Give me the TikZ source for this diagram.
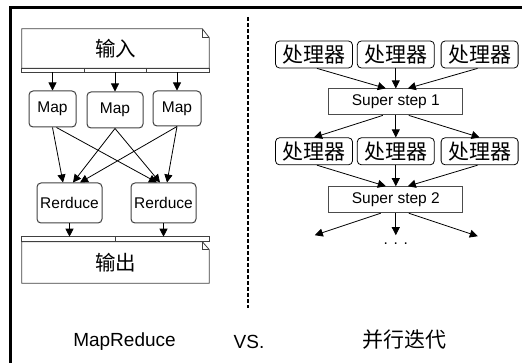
\documentclass[tikz,border=0pt]{standalone}
\usepackage{fontspec}
\setmainfont{Liberation Sans}
\newfontfamily\cjk{Noto Sans CJK SC}
\usetikzlibrary{arrows.meta,positioning}

\begin{document}
\begin{tikzpicture}[x=1pt,y=-1pt,>={Triangle[length=8pt,width=8pt]},semithick]
	\tikzstyle{task}=[rectangle, rounded corners=4pt, draw=black!75, line width=1pt, inner sep=0pt, minimum height=36pt, font=\fontsize{15.5}{18}\selectfont]
	\tikzstyle{doc}=[inner sep=0pt, minimum width=187pt, font=\cjk\fontsize{20.5}{24}\selectfont]
	\tikzstyle{docline}=[draw=black!75, line width=0.8pt]
	\tikzstyle{proc}=[rectangle, rounded corners=4pt, draw=black, line width=0.8pt, inner sep=0pt, minimum width=77pt, minimum height=27pt, font=\cjk\fontsize{21}{24}\selectfont]
	\tikzstyle{sstep}=[rectangle, draw=black!70, line width=1pt, inner sep=0pt, minimum width=134pt, minimum height=26pt, font=\fontsize{15.5}{18}\selectfont]
	\tikzstyle{link}=[->, line width=0.8pt]
	\tikzstyle{caption}=[font=\fontsize{19}{22}\selectfont]
	
	\useasboundingbox (0,0) rectangle (522,363);
	\clip (0,0) rectangle (522,363);
	\draw[line width=3pt] (10,8) rectangle (600,420);
	
	% MapReduce
	\node[doc, minimum height=39pt] (in) at (115.5,48.5) {输入};
	\draw[docline] (in.south west) -- (in.north west) -- ([xshift=-7pt]in.north east) -- ([yshift=-9pt]in.north east) -- (in.south east) -- cycle;
	\draw[docline] ([xshift=-7pt]in.north east) |- ([yshift=-9pt]in.north east);
	\draw[docline] (in.south west) rectangle ([yshift=-4pt]in.south east);
	\path (in.south west) -- (in.south east) coordinate[pos=1/3] (d1) coordinate[pos=2/3] (d2);
	\draw[docline] (d1) -- ++(0,4);
	\draw[docline] (d2) -- ++(0,4);
	\coordinate (instrip) at ([yshift=-4pt]in.south);
	
	\node[task, minimum width=47pt] (map1) at (52.5,109) {Map};
	\node[task, minimum width=56pt] (map2) at (115,110) {Map};
	\node[task, minimum width=48pt, minimum height=35pt] (map3) at (177,108.5) {Map};
	
	\node[task, minimum width=65pt, minimum height=40pt] (red1) at (69.5,203) {Rerduce};
	\node[task, minimum width=65pt, minimum height=40pt] (red2) at (163.5,203) {Rerduce};
	
	\node[doc, minimum height=41pt] (out) at (115.5,262.5) {输出};
	\draw[docline] (out.north west) -- ([xshift=-7pt]out.north east) -- ([yshift=-8pt]out.north east) -- (out.south east) -- (out.south west) -- cycle;
	\draw[docline] ([xshift=-7pt]out.north east) |- ([yshift=-8pt]out.north east);
	\draw[docline] (out.north west) rectangle ([yshift=5pt]out.north east);
	\draw[docline] (out.north) -- ++(0,-5);
	\coordinate (outstrip) at ([yshift=5pt]out.north);
	
	\draw[link] (map1 |- instrip) -- (map1.north);
	\draw[link] (map2 |- instrip) -- (map2.north);
	\draw[link] (map3 |- instrip) -- (map3.north);
	
	\draw[link] (map1.south) -- ([xshift=-6.5pt]red1.north);
	\draw[link] ([xshift=4pt]map1.south) -- ([xshift=-6.5pt]red2.north);
	\draw[link] (map2.south) -- ([xshift=3.5pt]red1.north);
	\draw[link] (map2.south) -- ([xshift=-3.5pt]red2.north);
	\draw[link] (map3.south) -- ([xshift=10.5pt]red1.north);
	\draw[link] (map3.south) -- ([xshift=3.5pt]red2.north);
	
	\draw[link] (red1.south) -- (red1 |- outstrip);
	\draw[link] (red2.south) -- (red2 |- outstrip);
	
	% divider
	\coordinate (dtop) at (248,17);
	\coordinate (dbot) at (248,308);
	\draw[line width=2pt, dash pattern=on 4pt off 2pt] (dtop) -- (dbot);
	
	% BSP
	\node[proc] (p11) at (314,54.5) {处理器};
	\node[proc] (p12) [right=4pt of p11] {处理器};
	\node[proc] (p13) [right=6pt of p12] {处理器};
	\node[sstep] (ss1) [below=20pt of p12] {Super step 1};
	\node[proc] (p22) [below=22pt of ss1] {处理器};
	\node[proc] (p21) [left=4pt of p22] {处理器};
	\node[proc] (p23) [right=6pt of p22] {处理器};
	\node[sstep] (ss2) [below=21pt of p22] {Super step 2};
	
	\draw[link] ([xshift=3pt]p11.south) -- ([xshift=-10pt]ss1.north);
	\draw[link] (p12.south) -- (p12.south |- ss1.north);
	\draw[link] ([xshift=-2pt]p13.south) -- ([xshift=12pt]ss1.north);
	
	\draw[link] ([xshift=-13pt]ss1.south) -- (p21.north);
	\draw[link] (ss1.south) -- (ss1.south |- p22.north);
	\draw[link] ([xshift=13pt]ss1.south) -- (p23.north);
	
	\draw[link] ([xshift=3pt]p21.south) -- ([xshift=-10pt]ss2.north);
	\draw[link] (p22.south) -- (p22.south |- ss2.north);
	\draw[link] ([xshift=-2pt]p23.south) -- ([xshift=12pt]ss2.north);
	
	\coordinate (e1) at ([xshift=-81pt,yshift=-22pt]ss2.south);
	\coordinate (e2) at ([yshift=-22pt]ss2.south);
	\coordinate (e3) at ([xshift=82pt,yshift=-23pt]ss2.south);
	\draw[link] ([xshift=-15pt]ss2.south) -- (e1);
	\draw[link] (ss2.south) -- (e2);
	\draw[link] ([xshift=13pt]ss2.south) -- (e3);
	\node[font=\fontsize{15.5}{18}\selectfont] (dots) at ([yshift=-30pt]ss2.south) {. . .};
	
	% captions
	\node[caption] (mr) at (124.5,342) {MapReduce};
	\node[caption] (vs) at (249,342) {VS.};
	\node[caption, font=\cjk\fontsize{21}{24}\selectfont] (iter) at (404,340) {并行迭代};
	
\end{tikzpicture}
\end{document}
